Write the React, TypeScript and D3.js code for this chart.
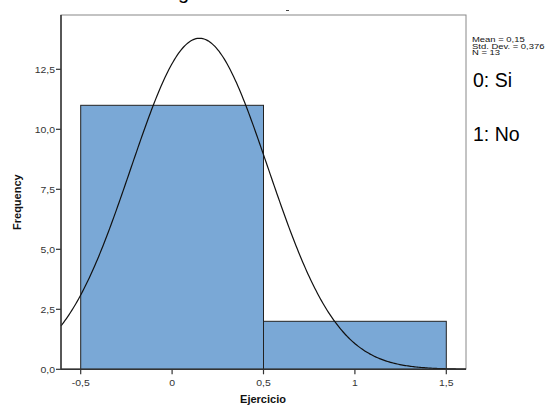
import React from "react";
import * as d3 from "d3";

// Histogram bins of "Ejercicio" (0: Si, 1: No)
const binStarts = [-0.5, 0.5];
const binEnds = [0.5, 1.5];
const binCounts = [11, 2];

const xTickValues = [-0.5, 0, 0.5, 1, 1.5];
const xTickLabels = ["-0,5", "0", "0,5", "1", "1,5"];
const yTickValues = [0, 2.5, 5, 7.5, 10, 12.5];
const yTickLabels = ["0,0", "2,5", "5,0", "7,5", "10,0", "12,5"];

const statMean = 0.15;
const statSd = 0.376;
const statN = 13;
const statLines = ["Mean = 0,15", "Std. Dev. = 0,376", "N = 13"];
const codeLabels = ["0: Si", "1: No"];

const W = 557;
const H = 407;
const plot = { left: 61, right: 466, top: 15, bottom: 369 };

export default function App() {
  const x = d3.scaleLinear().domain([-0.5, 1.5]).range([80.7, 446.3]);
  const y = d3.scaleLinear().domain([0, 12.5]).range([369.3, 69.3]);
  const xMin = x.invert(plot.left);
  const xMax = x.invert(plot.right);

  const binWidth = 1;
  const normal = (v: number) =>
    (statN * binWidth) / (statSd * Math.sqrt(2 * Math.PI)) *
    Math.exp(-0.5 * Math.pow((v - statMean) / statSd, 2));
  const curvePts = d3.range(0, 301).map((i) => {
    const v = xMin + ((xMax - xMin) * i) / 300;
    return [v, normal(v)] as [number, number];
  });
  const line = d3
    .line<[number, number]>()
    .x((d) => x(d[0]))
    .y((d) => y(d[1]))
    .curve(d3.curveLinear);

  const font = "'Liberation Sans', Arial, sans-serif";
  const y0 = y(0);

  return (
    <svg
      width={W}
      height={H}
      style={{ position: "absolute", left: 0, top: 0, background: "#fff" }}
      fontFamily={font}
    >
      {/* title, clipped by the top edge */}
      <text x={178} y={-1} fontSize={20} fill="#000">g</text>
      <line x1={286} x2={289} y1={10.5} y2={10.5} stroke="#444" strokeWidth={1} />

      {/* frame */}
      <rect
        x={plot.left}
        y={plot.top}
        width={plot.right - plot.left}
        height={plot.bottom - plot.top}
        fill="#fff"
        stroke="#888"
        strokeWidth={1}
      />

      {/* bars */}
      {binCounts.map((c, i) => (
        <rect
          key={i}
          x={x(binStarts[i])}
          y={y(c)}
          width={x(binEnds[i]) - x(binStarts[i])}
          height={y0 - y(c)}
          fill="#7aa8d6"
          stroke="#222"
          strokeWidth={1}
        />
      ))}

      {/* normal curve */}
      <path d={line(curvePts) || ""} fill="none" stroke="#111" strokeWidth={1.2} />

      {/* axes */}
      <line x1={plot.left} x2={plot.left} y1={plot.top} y2={y0} stroke="#333" strokeWidth={1.5} />
      <line x1={plot.left} x2={plot.right} y1={y0} y2={y0} stroke="#333" strokeWidth={1.5} />

      {yTickValues.map((v, i) => (
        <g key={v}>
          <line x1={plot.left - 5} x2={plot.left} y1={y(v)} y2={y(v)} stroke="#333" strokeWidth={1.2} />
          <text
            transform={`translate(${plot.left - 6},${y(v) + 3.5}) scale(1.1,1)`}
            fontSize={9.5}
            textAnchor="end"
            fill="#333"
          >
            {yTickLabels[i]}
          </text>
        </g>
      ))}

      {xTickValues.map((v, i) => (
        <g key={v}>
          <line x1={x(v)} x2={x(v)} y1={y0} y2={y0 + 5} stroke="#333" strokeWidth={1.2} />
          <text
            transform={`translate(${x(v)},${y0 + 17}) scale(1.1,1)`}
            fontSize={9.5}
            textAnchor="middle"
            fill="#333"
          >
            {xTickLabels[i]}
          </text>
        </g>
      ))}

      {/* axis titles */}
      <text
        transform={`translate(21,${(plot.top + y0) / 2 + 10}) rotate(-90)`}
        fontSize={11}
        fontWeight="bold"
        textAnchor="middle"
        fill="#111"
      >
        Frequency
      </text>
      <text x={263} y={403} fontSize={11} fontWeight="bold" textAnchor="middle" fill="#111">
        Ejercicio
      </text>

      {/* statistics: compact, slightly flattened lines */}
      {statLines.map((s, i) => (
        <text
          key={s}
          transform={`translate(472,${42 + i * 6.6}) scale(1.05,0.8)`}
          fontSize={9}
          fill="#111"
        >
          {s}
        </text>
      ))}

      {codeLabels.map((s, i) => (
        <text key={s} x={473} y={87.3 + i * 53.7} fontSize={19.5} fill="#000">
          {s}
        </text>
      ))}
    </svg>
  );
}
